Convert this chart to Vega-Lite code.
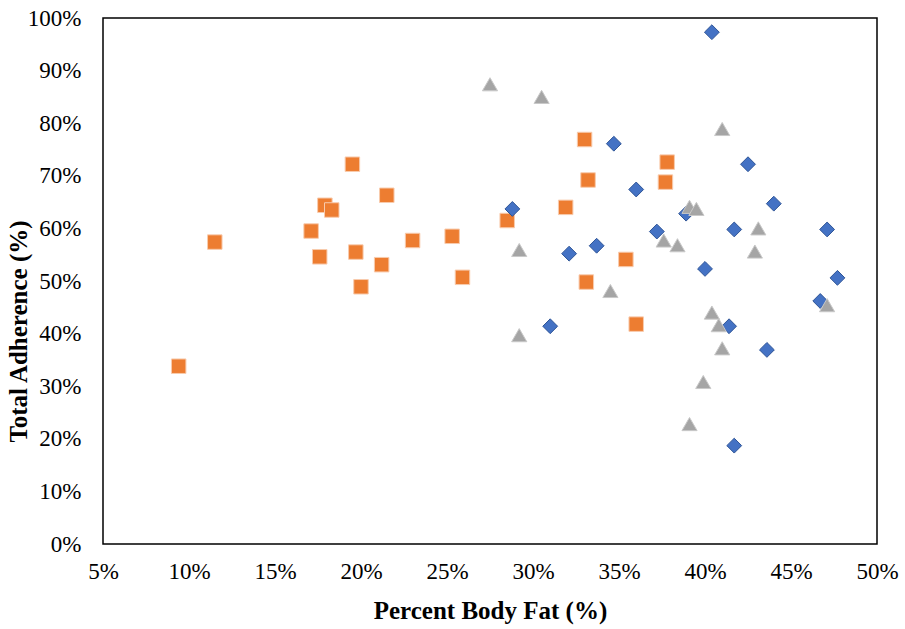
{
  "$schema": "https://vega.github.io/schema/vega-lite/v6.json",
  "autosize": {"type": "none"},
  "padding": {"left": 103, "top": 18, "right": 28, "bottom": 85},
  "width": 774,
  "height": 526,
  "background": "white",
  "config": {
    "view": {"stroke": "black", "strokeWidth": 1.5},
    "font": "Liberation Serif",
    "style": {"guide-label": {"font": "Liberation Serif", "fontSize": 23, "fill": "black"}, "guide-title": {"font": "Liberation Serif", "fontSize": 25, "fontWeight": "bold", "fill": "black"}},
    "axis": {"grid": false, "ticks": false, "domain": false, "labelFont": "Liberation Serif", "labelFontSize": 23, "labelColor": "black", "labelFlush": false, "labelOverlap": false, "titleFont": "Liberation Serif", "titleFontSize": 25, "titleFontWeight": "bold", "titleColor": "black"}
  },
  "data": {"values": [
    {"group": "A", "fat": 9.4, "adh": 33.8},
    {"group": "A", "fat": 11.5, "adh": 57.4},
    {"group": "A", "fat": 17.1, "adh": 59.5},
    {"group": "A", "fat": 17.6, "adh": 54.6},
    {"group": "A", "fat": 17.9, "adh": 64.4},
    {"group": "A", "fat": 18.3, "adh": 63.5},
    {"group": "A", "fat": 19.5, "adh": 72.2},
    {"group": "A", "fat": 19.7, "adh": 55.5},
    {"group": "A", "fat": 20.0, "adh": 48.9},
    {"group": "A", "fat": 21.2, "adh": 53.1},
    {"group": "A", "fat": 21.5, "adh": 66.3},
    {"group": "A", "fat": 23.0, "adh": 57.7},
    {"group": "A", "fat": 25.3, "adh": 58.5},
    {"group": "A", "fat": 25.9, "adh": 50.7},
    {"group": "A", "fat": 28.5, "adh": 61.5},
    {"group": "A", "fat": 31.9, "adh": 64.0},
    {"group": "A", "fat": 33.0, "adh": 76.9},
    {"group": "A", "fat": 33.1, "adh": 49.8},
    {"group": "A", "fat": 33.2, "adh": 69.2},
    {"group": "A", "fat": 35.4, "adh": 54.1},
    {"group": "A", "fat": 36.0, "adh": 41.8},
    {"group": "A", "fat": 37.7, "adh": 68.8},
    {"group": "A", "fat": 37.8, "adh": 72.6},
    {"group": "B", "fat": 40.4, "adh": 97.3},
    {"group": "B", "fat": 34.7, "adh": 76.1},
    {"group": "B", "fat": 42.5, "adh": 72.2},
    {"group": "B", "fat": 36.0, "adh": 67.4},
    {"group": "B", "fat": 28.8, "adh": 63.7},
    {"group": "B", "fat": 44.0, "adh": 64.7},
    {"group": "B", "fat": 38.9, "adh": 62.8},
    {"group": "B", "fat": 37.2, "adh": 59.4},
    {"group": "B", "fat": 41.7, "adh": 59.8},
    {"group": "B", "fat": 47.1, "adh": 59.8},
    {"group": "B", "fat": 33.7, "adh": 56.7},
    {"group": "B", "fat": 32.1, "adh": 55.2},
    {"group": "B", "fat": 40.0, "adh": 52.3},
    {"group": "B", "fat": 47.7, "adh": 50.6},
    {"group": "B", "fat": 46.7, "adh": 46.2},
    {"group": "B", "fat": 31.0, "adh": 41.4},
    {"group": "B", "fat": 41.4, "adh": 41.4},
    {"group": "B", "fat": 43.6, "adh": 36.9},
    {"group": "B", "fat": 41.7, "adh": 18.7},
    {"group": "C", "fat": 27.5, "adh": 87.4},
    {"group": "C", "fat": 30.5, "adh": 85.0},
    {"group": "C", "fat": 41.0, "adh": 78.9},
    {"group": "C", "fat": 39.1, "adh": 64.1},
    {"group": "C", "fat": 39.5, "adh": 63.7},
    {"group": "C", "fat": 43.1, "adh": 60.0},
    {"group": "C", "fat": 29.2, "adh": 55.9},
    {"group": "C", "fat": 37.6, "adh": 57.7},
    {"group": "C", "fat": 38.4, "adh": 56.8},
    {"group": "C", "fat": 42.9, "adh": 55.6},
    {"group": "C", "fat": 34.5, "adh": 48.1},
    {"group": "C", "fat": 40.4, "adh": 44.0},
    {"group": "C", "fat": 40.8, "adh": 41.6},
    {"group": "C", "fat": 47.1, "adh": 45.4},
    {"group": "C", "fat": 29.2, "adh": 39.7},
    {"group": "C", "fat": 41.0, "adh": 37.2},
    {"group": "C", "fat": 39.9, "adh": 30.8},
    {"group": "C", "fat": 39.1, "adh": 22.8}
  ]},
  "mark": {"type": "point", "filled": true, "opacity": 1, "strokeWidth": 1, "size": 210},
  "encoding": {
    "x": {"field": "fat", "type": "quantitative", "title": "Percent Body Fat (%)",
      "scale": {"domain": [5, 50], "nice": false, "zero": false},
      "axis": {"values": [5, 10, 15, 20, 25, 30, 35, 40, 45, 50], "labelExpr": "datum.value + '%'", "labelFont": "Liberation Serif", "labelFontSize": 23, "labelFlush": false, "labelOverlap": false, "labelPadding": 16, "titleY": 66, "titleBaseline": "middle"}},
    "y": {"field": "adh", "type": "quantitative", "title": "Total Adherence (%)",
      "scale": {"domain": [0, 100], "nice": false},
      "axis": {"values": [0, 10, 20, 30, 40, 50, 60, 70, 80, 90, 100], "labelExpr": "datum.value + '%'", "labelFont": "Liberation Serif", "labelFontSize": 23, "labelFlush": false, "labelOverlap": false, "labelPadding": 22, "titleX": -85, "titleY": 313, "titleAlign": "center", "titleBaseline": "middle", "titleAngle": -90}},
    "shape": {"field": "group", "type": "nominal", "legend": null,
      "scale": {"domain": ["A", "B", "C"], "range": ["square", "diamond", "triangle-up"]}},
    "color": {"field": "group", "type": "nominal", "legend": null,
      "scale": {"domain": ["A", "B", "C"], "range": ["#ED7D31", "#4472C4", "#A5A5A5"]}},
    "stroke": {"field": "group", "type": "nominal", "legend": null,
      "scale": {"domain": ["A", "B", "C"], "range": ["#F8CBAD", "#2F5597", "#C9C9C9"]}},
    "size": {"field": "group", "type": "nominal", "legend": null,
      "scale": {"domain": ["A", "B", "C"], "range": [210, 230, 260]}}
  }
}
